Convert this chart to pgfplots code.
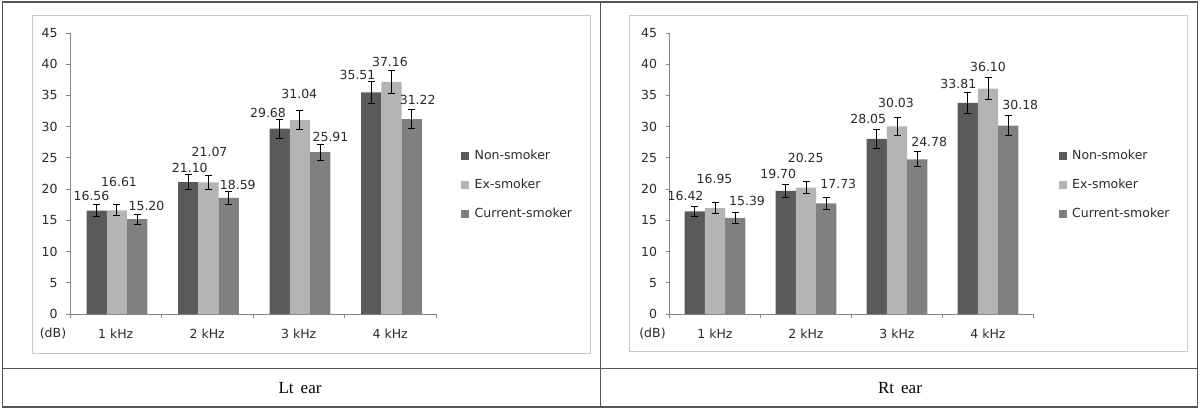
\documentclass[border=0pt]{standalone}
\usepackage{pgfplots}
\pgfplotsset{compat=1.18}
\usepackage{pgfplotstable}
\usepackage{fontspec}
\newfontfamily\chartfont{DejaVu Sans}
\setmainfont{Liberation Serif}
\definecolor{cNS}{HTML}{5A5A5A}
\definecolor{cEX}{HTML}{B4B4B4}
\definecolor{cCU}{HTML}{808080}
\definecolor{cAX}{HTML}{868686}
\definecolor{cTX}{HTML}{2A2A2A}
\definecolor{cFR}{HTML}{C8C8C8}
\definecolor{cTB}{HTML}{555555}

\pgfplotstableread{
x ns nse ex exe cu cue
0 16.56 0.9 16.61 0.85 15.20 0.8
1 21.10 1.2 21.07 1.1 18.59 1.0
2 29.68 1.5 31.04 1.55 25.91 1.3
3 35.51 1.8 37.16 1.9 31.22 1.5
}\ltdata
\pgfplotstableread{
x ns nse ex exe cu cue
0 16.42 0.8 16.95 0.85 15.39 0.9
1 19.70 1.0 20.25 1.0 17.73 1.0
2 28.05 1.5 30.03 1.5 24.78 1.2
3 33.81 1.7 36.10 1.75 30.18 1.6
}\rtdata
\pgfplotstableread{
x y label
-0.265 18.9 16.56
0.036 21.19 16.61
0.336 17.25 15.20
0.809 23.43 21.10
1.025 25.9 21.07
1.334 20.66 18.59
1.664 32.24 29.68
2.006 35.23 31.04
2.347 28.35 25.91
2.642 38.23 35.51
2.997 40.31 37.16
3.3 34.22 31.22
}\ltlab
\pgfplotstableread{
x y label
-0.324 18.87 16.42
-0.005 21.69 16.95
0.352 18.11 15.39
0.695 22.44 19.70
0.997 25.06 20.25
1.355 20.79 17.73
1.684 31.21 28.05
1.989 33.87 30.03
2.354 27.52 24.78
2.674 36.92 33.81
3.0 39.6 36.10
3.355 33.46 30.18
}\rtlab

\newcommand\cf{\chartfont\fontsize{12.5}{14}\selectfont}

\pgfplotsset{
  earaxis/.style={
    anchor=south west,
    scale only axis, width=366pt, height=281pt,
    xmin=-0.5, xmax=3.5, ymin=0, ymax=45,
    axis lines*=left,
    axis line style={draw=cAX, line width=0.9pt},
    xtick={-0.5,0.5,1.5,2.5,3.5},
    x tick label as interval,
    xticklabels={1 kHz,2 kHz,3 kHz,4 kHz},
    ytick={0,5,...,45},
    tick style={draw=cAX, line width=0.9pt},
    major tick length=4pt,
    tick align=outside,
    /pgf/number format/assume math mode=true,
    ticklabel style={font=\cf, text=cTX},
    xticklabel style={yshift=-7pt},
    yticklabel style={xshift=-5pt},
    clip=false,
    legend cell align=left,
    legend image code/.code={\fill[##1] (0pt,-4pt) rectangle (8pt,4pt); \path (12pt,0pt);},
    legend style={draw=none, fill=none, font=\cf, text=cTX, inner sep=0pt,
      anchor=west, xshift=25pt, row sep=14.5pt,
      nodes={inner sep=1.5pt, text height=9pt, text depth=2.5pt}},
    error bars/y dir=both, error bars/y explicit,
    error bars/error bar style={black, line width=1pt},
    error bars/error mark options={rotate=90, mark size=3.5pt, line width=1pt, black},
  },
  lab/.style={forget plot, draw=none, mark=none, nodes near coords,
    point meta=explicit symbolic,
    nodes near coords style={anchor=center, font=\cf, text=cTX, inner sep=0pt}},
}

\begin{document}
\begin{tikzpicture}[x=1pt,y=1pt]
\useasboundingbox (0,0) rectangle (1200,410);
% table frame
\draw[cTB, line width=1.2pt] (2.5,3) rectangle (1197.5,408);
\draw[cTB, line width=1pt] (2.5,42) -- (1197.5,42);
\draw[cTB, line width=0.8pt] (600,3) -- (600,408);
% chart frames
\draw[cFR, line width=1pt] (32,57) rectangle (590,394);
\draw[cFR, line width=1pt] (629,59) rectangle (1187,394);
\node[font=\fontsize{17}{19}\selectfont] at (300,22) {Lt\, ear};
\node[font=\fontsize{17}{19}\selectfont] at (900,22) {Rt\, ear};

\begin{axis}[earaxis, at={(70pt,96pt)},
  legend style={at={(axis cs:3.5,20.6)}}]
\addplot[ybar, bar width=20.2pt, bar shift=0pt, fill=cNS, draw=none]
  table[x expr=\thisrow{x}-0.2077, y=ns, y error=nse] {\ltdata};
\addlegendentry{Non-smoker}
\addplot[ybar, bar width=20.2pt, bar shift=0pt, fill=cEX, draw=none]
  table[x expr=\thisrow{x}+0.0131, y=ex, y error=exe] {\ltdata};
\addlegendentry{Ex-smoker}
\addplot[ybar, bar width=20.2pt, bar shift=0pt, fill=cCU, draw=none]
  table[x expr=\thisrow{x}+0.2339, y=cu, y error=cue] {\ltdata};
\addlegendentry{Current-smoker}
\addplot[lab] table[x=x, y=y, meta=label] {\ltlab};
\node[font=\cf, text=cTX] at (axis cs:-0.5,0) [xshift=-17pt, yshift=-20pt] {(dB)};
\end{axis}

\begin{axis}[earaxis, at={(669.5pt,96pt)}, width=364pt,
  legend style={at={(axis cs:3.5,20.6)}}]
\addplot[ybar, bar width=20.2pt, bar shift=0pt, fill=cNS, draw=none]
  table[x expr=\thisrow{x}-0.222, y=ns, y error=nse] {\rtdata};
\addlegendentry{Non-smoker}
\addplot[ybar, bar width=20.2pt, bar shift=0pt, fill=cEX, draw=none]
  table[x=x, y=ex, y error=exe] {\rtdata};
\addlegendentry{Ex-smoker}
\addplot[ybar, bar width=20.2pt, bar shift=0pt, fill=cCU, draw=none]
  table[x expr=\thisrow{x}+0.222, y=cu, y error=cue] {\rtdata};
\addlegendentry{Current-smoker}
\addplot[lab] table[x=x, y=y, meta=label] {\rtlab};
\node[font=\cf, text=cTX] at (axis cs:-0.5,0) [xshift=-17pt, yshift=-20pt] {(dB)};
\end{axis}
\end{tikzpicture}
\end{document}
